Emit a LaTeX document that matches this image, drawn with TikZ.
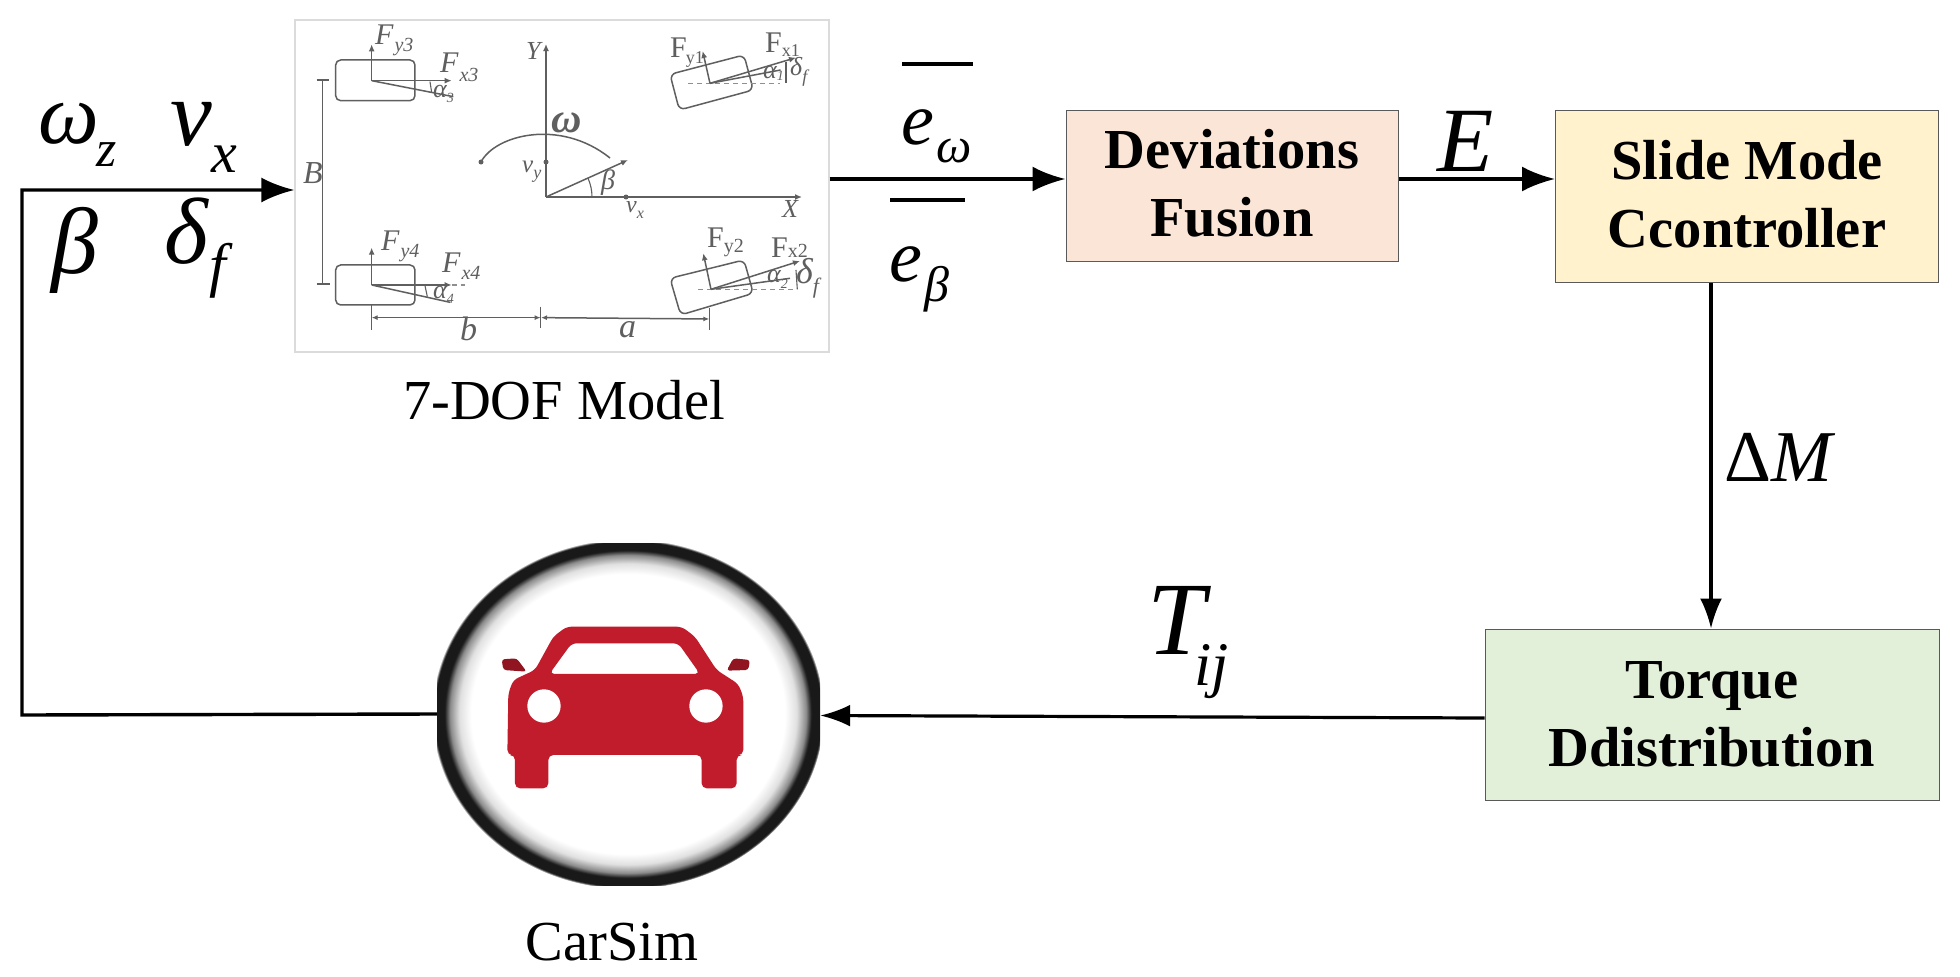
\documentclass[tikz,border=0pt]{standalone}
\usepackage{fontspec}
\setmainfont{Liberation Serif}
\usetikzlibrary{arrows.meta,calc}
\definecolor{devfill}{HTML}{FBE5D6}
\definecolor{slidefill}{HTML}{FFF2CC}
\definecolor{torqfill}{HTML}{E2F0D9}
\definecolor{carred}{HTML}{C01C2C}
\definecolor{pline}{HTML}{5F5F5F}
\newcommand{\fs}[1]{\fontsize{#1}{#1}\selectfont}
\newcommand{\boxfont}{\fontsize{56.5}{68}\selectfont\bfseries}
\newcommand{\liftfive}{\rule[-5pt]{0pt}{5pt}}
% size, glyph, subsize, sub, drop, kern
\newcommand{\gsub}[6]{{\fs{#1}#2}\kern#6pt\raisebox{-#5pt}{\fs{#3}#4}}
\pgfdeclareradialshading{ringshade}{\pgfpoint{0bp}{0bp}}{%
 color(0bp)=(white); color(20bp)=(white); color(21.5bp)=(black!12); color(22.7bp)=(black!45);
 color(23.4bp)=(black!90); color(24.7bp)=(black!90); color(25bp)=(white); color(50bp)=(white)}
\tikzset{
 bx/.style={draw=black!65,line width=1pt,align=center,inner sep=0pt,font=\boxfont},
 flow/.style={line width=3.4pt,-{Latex[length=33pt,width=25pt]}},
 flowthin/.style={line width=3.2pt,-{Latex[length=30pt,width=22pt]}},
 mlab/.style={anchor=base west,inner sep=0pt,font=\itshape},
 captxt/.style={anchor=base,inner sep=0pt,font=\fs{56.5}},
 pl/.style={anchor=base west,inner sep=0pt,text=pline,font=\itshape},
 pu/.style={anchor=base west,inner sep=0pt,text=pline},
 pln/.style={draw=pline,line width=1.5pt},
 parr/.style={pln,-{Latex[length=7pt,width=6pt]}},
 pdim/.style={pln,{Latex[length=6pt,width=5pt]}-{Latex[length=6pt,width=5pt]}},
 pdash/.style={draw=pline!70,line width=1.1pt,dash pattern=on 5pt off 4pt},
}
\begin{document}
\begin{tikzpicture}[x=1pt,y=-1pt]
\useasboundingbox (0,0) rectangle (1960,977);
% model panel
\node[draw=black!14,line width=1.2pt,fill=white,minimum width=534pt,minimum height=332pt,inner sep=0pt] (panel) at (562,186) {};
% main axes of the panel
\coordinate (orig) at (546,197);
\coordinate (xend) at (802,197);
\coordinate (yend) at (546,44);
\coordinate (vel) at (628,160);
\draw[parr] (orig) -- (xend);
\draw[parr] (orig) -- (yend);
\draw[parr] (orig) -- (vel);
\draw[pln] (481,162) .. controls (495,135) and (560,118) .. (610,158);
\fill[pline] (481,162) circle (2.5pt) (546,162) circle (2.5pt) (626,197) circle (2.5pt);
\draw[pln,line width=1.1pt] (592,197) arc (0:-24:46);
% rear wheels, left part (coordinates of 3x crop)
\begin{scope}[shift={(290,15)},x=0.3333pt,y=-0.3333pt]
 \draw[pln,rounded corners=5pt] (137,135) rectangle (375,257);
 \draw[pln,rounded corners=5pt] (137,750) rectangle (375,870);
 \draw[parr] (245,197) -- (245,88);
 \draw[parr] (245,197) -- (485,197);
 \draw[pln] (245,197) -- (490,245);
 \draw[pln,line width=1.1pt] (420,200) -- (425,232);
 \draw[parr] (245,810) -- (245,698);
 \draw[parr] (245,810) -- (485,810);
 \draw[pdash] (485,810) -- (525,810);
 \draw[pln] (245,810) -- (480,862);
 \draw[pln,line width=1.1pt] (405,812) -- (412,845);
 \draw[pln] (98,195) -- (98,807);
 \draw[pln] (80,195) -- (118,195) (80,807) -- (120,807);
 \draw[pln] (245,870) -- (245,945) (752,875) -- (752,940);
 \draw[pdim] (752,908) -- (245,908);
\end{scope}
% front wheels, right part (coordinates of 3x crop)
\begin{scope}[shift={(550,15)},x=0.3333pt,y=-0.3333pt]
 \draw[pln,rounded corners=6pt] (360,178) -- (582,120) -- (610,225) -- (388,285) -- cycle;
 \draw[pln,rounded corners=6pt] (360,790) -- (582,735) -- (610,835) -- (392,900) -- cycle;
 \draw[pdash] (415,205) -- (690,205);
 \draw[pln] (480,205) -- (692,165);
 \draw[parr] (480,205) -- (458,108);
 \draw[parr] (480,205) -- (738,128);
 \draw[pln,line width=1.1pt] (708,140) -- (708,205);
 \draw[pdash] (445,823) -- (740,823);
 \draw[pln] (483,823) -- (720,790);
 \draw[parr] (483,823) -- (460,715);
 \draw[parr] (483,823) -- (750,738);
 \draw[pln,line width=1.1pt] (738,765) -- (742,823);
 \draw[pdim] (-27,908) -- (478,912);
 \draw[pln] (478,880) -- (478,945);
\end{scope}
% panel labels
\node[pl] (fy3) at (375,44) {\gsub{30}{F}{20}{y3}{7}{1}};
\node[pl] (fx3) at (440,72) {\gsub{30}{F}{20}{x3}{9}{1}};
\node[pl] (al3) at (433,97) {\gsub{26}{α}{14}{3}{5}{0}};
\node[pl] (fy4) at (381,250) {\gsub{30}{F}{20}{y4}{7}{1}};
\node[pl] (fx4) at (442,272) {\gsub{30}{F}{20}{x4}{7}{1}};
\node[pl] (al4) at (433,298) {\gsub{26}{α}{14}{4}{5}{0}};
\node[pl] (lbB) at (303,183) {\fs{32}B};
\node[pl] (lbY) at (526,59) {\fs{26}Y};
\node[pl] (lbvy) at (522,172) {\gsub{25}{v}{18}{y}{6}{0}};
\node[pl] (lbb) at (460,340) {\fs{34}b};
\node[pl] (lba) at (619,337) {\fs{34}a};
\node[pl] (lbw) at (551,132) {\fs{42}\bfseries ω};
\node[pl] (lbbeta) at (601,189) {\fs{28}β};
\node[pl] (lbvx) at (626,212) {\gsub{24}{v}{16}{x}{6}{0}};
\node[pl] (lbX) at (782,217) {\fs{26}X};
\node[pu] (fy1) at (670,57) {\gsub{30}{F}{18}{y1}{6}{-1}};
\node[pu] (fx1) at (765,52) {\gsub{30}{F}{18}{x1}{4}{0}};
\node[pl] (al1) at (763,78) {\gsub{26}{α}{14}{1}{2}{0}};
\node[pl] (df1) at (790,75) {\gsub{26}{δ}{18}{f}{7}{0}};
\node[pu] (fy2) at (707,247) {\gsub{30}{F}{20}{y2}{5}{0}};
\node[pu] (fx2) at (771,257) {\gsub{30}{F}{20}{x2}{0}{0}};
\node[pl] (al2) at (767,282) {\gsub{26}{α}{14}{2}{6}{0}};
\node[pl] (df2) at (796,283) {\gsub{36}{δ}{22}{f}{10}{0}};
% caption of panel
\node[captxt] (capmodel) at (564,419) {7-DOF Model};
% CarSim icon
\node[minimum width=383pt,minimum height=342pt,inner sep=0pt] (carsim) at (628.5,714) {};
\begin{scope}
 \clip (437,543) rectangle (820,885);
 \shade[shading=ringshade] (628,714) ellipse [x radius=196,y radius=175];
\end{scope}
\begin{scope}[shift={(420,530)},x=0.3333pt,y=-0.3333pt]
 \fill[carred,even odd rule,rounded corners=5pt]
  (440,290) -- (785,290) -- (825,320) -- (890,420) -- (955,462) -- (970,500) -- (970,675) -- (950,675)
  -- (950,775) -- (845,775) -- (845,675) -- (385,675) -- (385,775) -- (285,775) -- (285,675) -- (262,675)
  -- (265,490) -- (280,450) -- (345,420) -- (400,320) -- cycle
  (455,340) -- (775,340) -- (840,432) -- (388,432) -- cycle;
 \fill[white] (372,528) circle [radius=16.67pt] (858,528) circle [radius=16.67pt];
 \fill[carred!75!black,rounded corners=3pt] (245,388) -- (290,385) -- (320,425) -- (250,420) -- cycle;
 \fill[carred!75!black,rounded corners=3pt] (920,422) -- (940,385) -- (990,390) -- (985,420) -- cycle;
\end{scope}
\node[captxt] (capcar) at (612,960) {CarSim};
% blocks
\node[bx,fill=devfill,minimum width=332pt,minimum height=151pt] (dev) at (1232,185.5) {Deviations\\Fusion\liftfive};
\node[bx,fill=slidefill,minimum width=383pt,minimum height=172pt] (slide) at (1747,196.5) {Slide Mode\\Ccontroller\liftfive};
\node[bx,fill=torqfill,minimum width=454pt,minimum height=171pt] (torq) at (1712,714.5) {Torque\\Ddistribution};
% connectors
\coordinate (fbA) at (22,715);
\coordinate (fbB) at (22,190);
\draw[flow,line join=miter] (carsim.west) -- (fbA) -- (fbB) -- (panel.west |- fbB);
\draw[flow] (panel.east |- 0,179) -- (dev.west |- 0,179);
\draw[flow] (dev.east |- 0,179) -- (slide.west |- 0,179);
\draw[flowthin] (slide.south -| 1711,0) -- (torq.north -| 1711,0);
\draw[flowthin] ([yshift=-3.5pt]torq.west) -- ([yshift=-1.5pt]carsim.east);
% signal labels
\node[mlab] (lw) at (38,143) {\gsub{86}{ω}{52}{z}{23}{-2}};
\node[mlab] (lv) at (170,145) {\gsub{94}{v}{58}{x}{27}{0}};
\node[mlab] (lb) at (51,273) {\fs{94}β};
\node[mlab] (ld) at (164,263) {\gsub{94}{δ}{60}{f}{22}{2}};
\node[mlab] (le1) at (901,144) {\gsub{74}{e}{50}{ω}{18}{2}};
\node[mlab] (le2) at (889,281) {\gsub{74}{e}{50}{β}{20}{2}};
\draw[line width=3.2pt] (902,64) -- (973,64);
\draw[line width=3.2pt] (890,200) -- (965,200);
\node[mlab] (lE) at (1437,171) {\fs{92}E};
\node[mlab] (lDM) at (1724,481) {\fs{73}\upshape Δ\itshape M};
\node[mlab] (lT) at (1147,654) {\gsub{104}{T}{62}{ij}{31}{-11}};
\end{tikzpicture}
\end{document}
